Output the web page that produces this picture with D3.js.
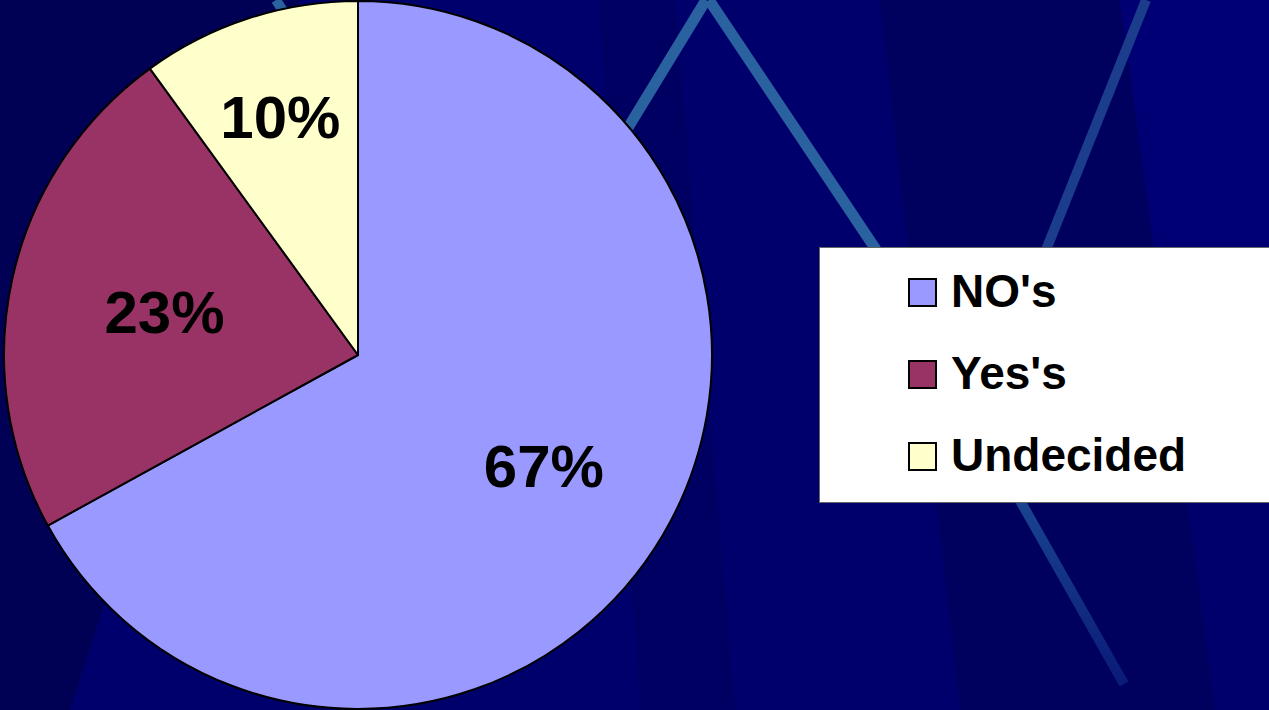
<!DOCTYPE html>
<html>
<head>
<meta charset="utf-8">
<script src="https://cdn.jsdelivr.net/npm/d3@7"></script>
<style>
  html, body { margin: 0; padding: 0; background: #00006c; overflow: hidden; }
  text { font-family: "Liberation Sans", Arial, sans-serif; font-weight: bold; }
</style>
</head>
<body>
<div id="chart"></div>
<script>
const categories = ["NO's", "Yes's", "Undecided"];
const values = [67, 23, 10];
const labels = ["67%", "23%", "10%"];

const colors = ["#9999ff", "#993366", "#ffffcc"];
// how far out each label sits, as a share of the radius
const labelRadius = [0.61, 0.56, 0.71];

const width = 1269;
const height = 710;

const svg = d3.select("#chart")
    .append("svg")
    .attr("width", width)
    .attr("height", height);

// --- slide background ---
const defs = svg.append("defs");
const fade = defs.append("linearGradient")
    .attr("id", "fade")
    .attr("x1", 0).attr("y1", 0).attr("x2", 0).attr("y2", 1);
fade.append("stop").attr("offset", "0%").attr("stop-color", "#1a4590");
fade.append("stop").attr("offset", "100%").attr("stop-color", "#0a1a78");

svg.append("rect")
    .attr("width", width)
    .attr("height", height)
    .attr("fill", "#00006c");

const bands = [
    { pts: [[0, 0], [300, 0], [70, 710], [0, 710]], fill: "#000054" },
    { pts: [[600, 0], [675, 0], [735, 710], [640, 710]], fill: "#000062" },
    { pts: [[880, 0], [1120, 0], [1215, 710], [960, 710]], fill: "#00005e" },
    { pts: [[1120, 0], [1269, 0], [1269, 430], [1180, 430]], fill: "#000074" }
];
svg.selectAll(".band")
    .data(bands)
    .enter().append("polygon")
    .attr("class", "band")
    .attr("points", d => d.pts.map(p => p.join(",")).join(" "))
    .attr("fill", d => d.fill);

const streaks = [
    { a: [276, 0], b: [305, 45], w: 10, c: "#2a62a0" },
    { a: [706, 0], b: [590, 190], w: 11, c: "#2a62a0" },
    { a: [709, 0], b: [903, 290], w: 11, c: "#2a62a0" },
    { a: [1146, 0], b: [1030, 290], w: 10, c: "#1c3c8c" },
    { a: [1018, 497], b: [1124, 684], w: 10, c: "url(#fade)" }
];
svg.selectAll(".streak")
    .data(streaks)
    .enter().append("line")
    .attr("class", "streak")
    .attr("x1", d => d.a[0]).attr("y1", d => d.a[1])
    .attr("x2", d => d.b[0]).attr("y2", d => d.b[1])
    .attr("stroke", d => d.c)
    .attr("stroke-width", d => d.w);

// --- pie ---
const cx = 358, cy = 355, radius = 354;

const pie = d3.pie()
    .sort(null)
    .value(d => d.value);

const data = categories.map((c, i) => ({ name: c, value: values[i], label: labels[i], idx: i }));
const arcs = pie(data);

const arc = d3.arc()
    .innerRadius(0)
    .outerRadius(radius);

const g = svg.append("g")
    .attr("transform", `translate(${cx},${cy})`);

g.selectAll(".slice")
    .data(arcs)
    .enter().append("path")
    .attr("class", "slice")
    .attr("d", arc)
    .attr("fill", d => colors[d.data.idx])
    .attr("stroke", "#000")
    .attr("stroke-width", 2)
    .attr("stroke-linejoin", "round");

g.selectAll(".slice-label")
    .data(arcs)
    .enter().append("text")
    .attr("class", "slice-label")
    .attr("transform", d => {
        const r = radius * labelRadius[d.data.idx];
        const a = (d.startAngle + d.endAngle) / 2;
        return `translate(${Math.sin(a) * r},${-Math.cos(a) * r})`;
    })
    .attr("text-anchor", "middle")
    .attr("dy", "0.36em")
    .attr("font-size", 60)
    .attr("fill", "#000")
    .text(d => d.data.label);

// --- legend ---
const legend = svg.append("g")
    .attr("transform", "translate(819,247)");

legend.append("rect")
    .attr("x", 0.5).attr("y", 0.5)
    .attr("width", 450)
    .attr("height", 255)
    .attr("fill", "#fff")
    .attr("stroke", "#666")
    .attr("stroke-width", 1);

const ly = d3.scalePoint()
    .domain(categories)
    .range([60, 224]);

const items = legend.selectAll(".legend-item")
    .data(data)
    .enter().append("g")
    .attr("class", "legend-item")
    .attr("transform", d => `translate(0,${ly(d.name)})`);

items.append("rect")
    .attr("x", 90)
    .attr("y", -28)
    .attr("width", 27)
    .attr("height", 27)
    .attr("fill", d => colors[d.idx])
    .attr("stroke", "#000")
    .attr("stroke-width", 2);

items.append("text")
    .attr("x", 132)
    .attr("y", 0)
    .attr("font-size", 46)
    .attr("fill", "#000")
    .text(d => d.name);
</script>
</body>
</html>
